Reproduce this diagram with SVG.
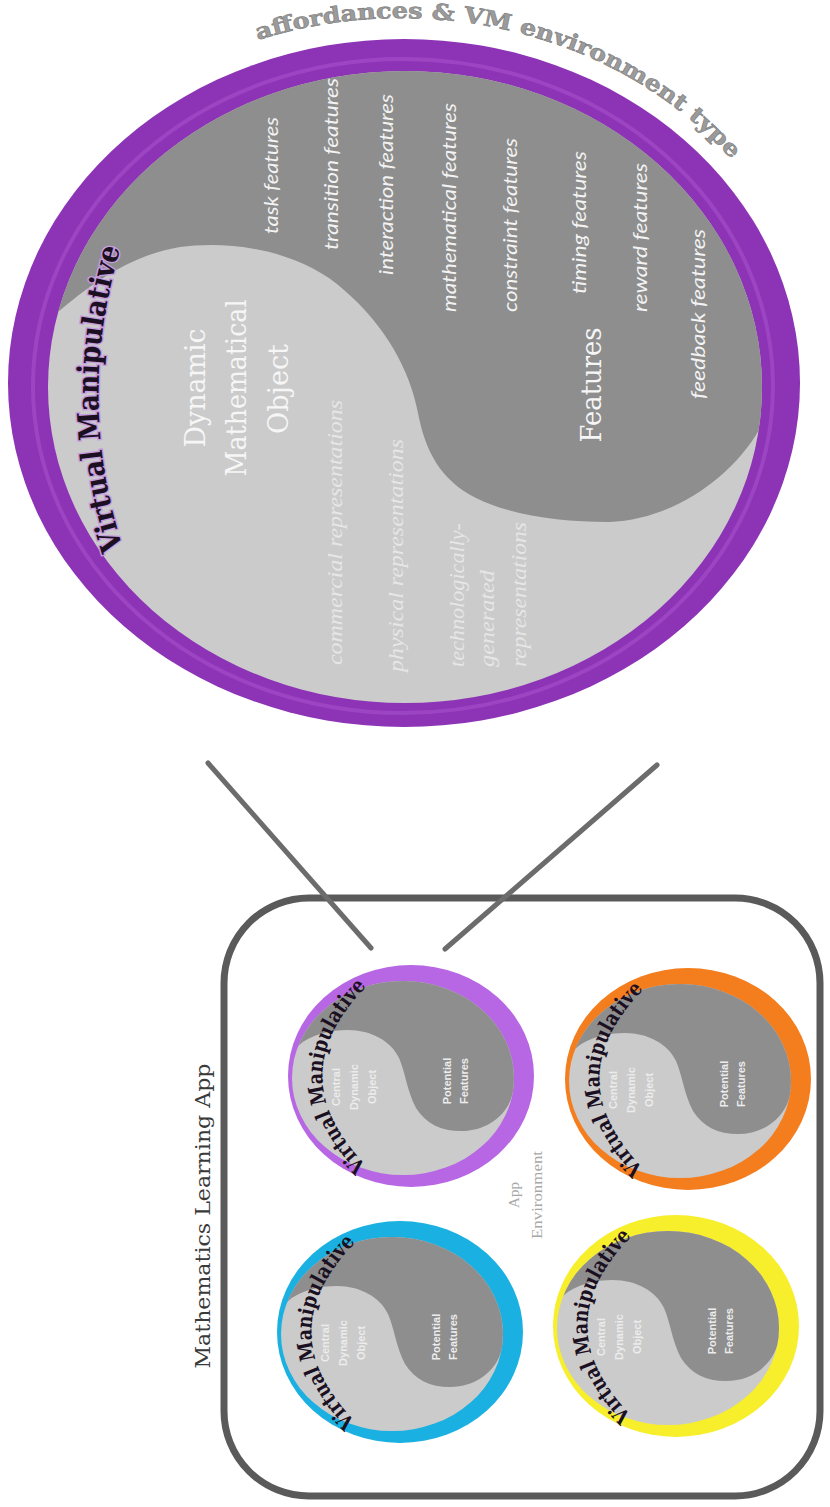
<svg xmlns="http://www.w3.org/2000/svg" width="830" height="1507" viewBox="0 0 830 1507">
<style>
.feat{font-family:Lato,"Open Sans",sans-serif;font-style:italic;font-size:19px;fill:#f3f3f3}
.rep{font-family:"Liberation Serif",serif;font-style:italic;font-size:20px;fill:#e6e6e6}
.dmo{font-family:"DejaVu Serif",serif;font-size:28px;fill:#f6f6f6}
.vm{font-family:"DejaVu Serif",serif;font-weight:bold;fill:#1b1022}
.vmh{font-family:"DejaVu Serif",serif;font-weight:bold;fill:none;stroke-width:3}
.sm{font-family:"Liberation Sans",Arial,sans-serif;font-weight:bold;font-size:11px;fill:#ececec}
.dark{fill:#8e8e8e}
.light{fill:#cbcbcb}
.conn{stroke:#6c6c6c;stroke-width:5;stroke-linecap:round;fill:none}
.ttl{font-family:"DejaVu Serif",serif;font-size:21px;fill:#3a3a3a}
.env{font-family:"Liberation Serif",serif;font-size:15px;fill:#a8a8a8}
</style>
<defs>
<path id="arcTop" d="M 258 40 A 420 368 0 0 1 800 272"/>
<path id="vmArc" d="M 127 560 Q 70 395 127 228"/>
<path id="smArc" d="M -40 94 Q -137 0 -40 -94"/>
<clipPath id="cBig"><ellipse cx="405" cy="387" rx="357" ry="316"/></clipPath>
<clipPath id="cSm"><ellipse cx="-8" cy="2" rx="111" ry="97"/></clipPath>
</defs>

<g id="vm-main">
<ellipse cx="404" cy="383" rx="396" ry="344" fill="#8c33b6"/>
<ellipse cx="403" cy="386" rx="370" ry="327" fill="none" stroke="#9c45c3" stroke-width="4"/>
<ellipse cx="405" cy="387" rx="357" ry="316" class="light"/>
<path class="dark" clip-path="url(#cBig)" d="M 0 330 L 58 312 C 90 285 130 255 180 247 C 230 240 300 250 344 290 C 385 325 410 370 418 413 C 425 450 440 480 476 498 C 510 515 560 522 609 522 C 670 520 730 480 759 430 L 820 410 L 820 0 L 0 0 Z"/>
<text class="vmh" font-size="30" stroke="#c79ce0"><textPath href="#vmArc" startOffset="12" textLength="305" lengthAdjust="spacingAndGlyphs">Virtual Manipulative</textPath></text>
<text class="vm" font-size="30"><textPath href="#vmArc" startOffset="12" textLength="305" lengthAdjust="spacingAndGlyphs">Virtual Manipulative</textPath></text>
<text font-family="DejaVu Serif, serif" font-weight="bold" font-size="22" fill="#9b9b9b" stroke="#7d7d7d" stroke-width="0.6"><textPath href="#arcTop" textLength="515" lengthAdjust="spacingAndGlyphs">affordances  &amp; VM environment  type</textPath></text>

<text class="dmo" x="195" y="388" text-anchor="middle" dominant-baseline="central" transform="rotate(-90 195 388)" textLength="119" lengthAdjust="spacingAndGlyphs">Dynamic</text>
<text class="dmo" x="236" y="388" text-anchor="middle" dominant-baseline="central" transform="rotate(-90 236 388)" textLength="177" lengthAdjust="spacingAndGlyphs">Mathematical</text>
<text class="dmo" x="278" y="389" text-anchor="middle" dominant-baseline="central" transform="rotate(-90 278 389)" textLength="90" lengthAdjust="spacingAndGlyphs">Object</text>
<text class="dmo" x="591" y="385" font-size="31" text-anchor="middle" dominant-baseline="central" transform="rotate(-90 591 385)" textLength="115" lengthAdjust="spacingAndGlyphs">Features</text>

<text class="feat" x="270" y="234" dominant-baseline="central" transform="rotate(-90 270 234)" textLength="117" lengthAdjust="spacingAndGlyphs">task features</text>
<text class="feat" x="330" y="250" dominant-baseline="central" transform="rotate(-90 330 250)" textLength="172" lengthAdjust="spacingAndGlyphs">transition features</text>
<text class="feat" x="385" y="275" dominant-baseline="central" transform="rotate(-90 385 275)" textLength="181" lengthAdjust="spacingAndGlyphs">interaction features</text>
<text class="feat" x="448" y="312" dominant-baseline="central" transform="rotate(-90 448 312)" textLength="209" lengthAdjust="spacingAndGlyphs">mathematical features</text>
<text class="feat" x="509" y="312" dominant-baseline="central" transform="rotate(-90 509 312)" textLength="174" lengthAdjust="spacingAndGlyphs">constraint features</text>
<text class="feat" x="578" y="294" dominant-baseline="central" transform="rotate(-90 578 294)" textLength="143" lengthAdjust="spacingAndGlyphs">timing features</text>
<text class="feat" x="639" y="312" dominant-baseline="central" transform="rotate(-90 639 312)" textLength="149" lengthAdjust="spacingAndGlyphs">reward features</text>
<text class="feat" x="697" y="399" dominant-baseline="central" transform="rotate(-90 697 399)" textLength="170" lengthAdjust="spacingAndGlyphs">feedback features</text>

<text class="rep" x="335" y="665" dominant-baseline="central" transform="rotate(-90 335 665)" textLength="265" lengthAdjust="spacingAndGlyphs">commercial representations</text>
<text class="rep" x="396" y="672" dominant-baseline="central" transform="rotate(-90 396 672)" textLength="233" lengthAdjust="spacingAndGlyphs">physical  representations</text>
<text class="rep" x="457" y="667" dominant-baseline="central" transform="rotate(-90 457 667)" textLength="144" lengthAdjust="spacingAndGlyphs">technologically-</text>
<text class="rep" x="487" y="667" dominant-baseline="central" transform="rotate(-90 487 667)" textLength="97" lengthAdjust="spacingAndGlyphs">generated</text>
<text class="rep" x="519" y="667" dominant-baseline="central" transform="rotate(-90 519 667)" textLength="145" lengthAdjust="spacingAndGlyphs">representations</text>
</g>

<g id="app-box">
<rect x="224" y="898" width="596" height="598" rx="85" fill="#ffffff" stroke="#5a5a5a" stroke-width="7"/>
<text class="ttl" x="203" y="1216" text-anchor="middle" dominant-baseline="central" transform="rotate(-90 203 1216)" textLength="305" lengthAdjust="spacingAndGlyphs">Mathematics Learning App</text>
<text class="env" x="514" y="1195" text-anchor="middle" dominant-baseline="central" transform="rotate(-90 514 1195)">App</text>
<text class="env" x="537" y="1195" text-anchor="middle" dominant-baseline="central" transform="rotate(-90 537 1195)" textLength="88" lengthAdjust="spacingAndGlyphs">Environment</text>
</g>

<g id="connectors">
<line class="conn" x1="208" y1="763" x2="371" y2="948"/>
<line class="conn" x1="657" y1="765" x2="445" y2="949"/>
</g>

<g id="vm-purple" transform="translate(411,1076)">
<ellipse rx="123" ry="111" fill="#b867e4"/>
<ellipse cx="-8" cy="2" rx="111" ry="97" class="light"/>
<path class="dark" clip-path="url(#cSm)" d="M -130 -25 L -113 -30 C -100 -42 -80 -46 -63 -46 C -40 -46 -20 -35 -12 -18 C -6 -5 -4 15 5 32 C 15 48 30 55 50 55 C 75 55 95 40 101 20 L 130 15 L 130 -120 L -130 -120 Z"/>
<text class="sm" x="-75" y="11" text-anchor="middle" dominant-baseline="central" transform="rotate(-90 -75 11)">Central</text>
<text class="sm" x="-57" y="11" text-anchor="middle" dominant-baseline="central" transform="rotate(-90 -57 11)">Dynamic</text>
<text class="sm" x="-39" y="11" text-anchor="middle" dominant-baseline="central" transform="rotate(-90 -39 11)">Object</text>
<text class="sm" x="36" y="5" text-anchor="middle" dominant-baseline="central" transform="rotate(-90 36 5)">Potential</text>
<text class="sm" x="53" y="5" text-anchor="middle" dominant-baseline="central" transform="rotate(-90 53 5)">Features</text>
<text class="vm" font-size="21"><textPath href="#smArc" startOffset="6" textLength="205" lengthAdjust="spacingAndGlyphs">Virtual Manipulative</textPath></text>
</g>

<g id="vm-orange" transform="translate(688,1079)">
<ellipse rx="123" ry="111" fill="#f47d1e"/>
<ellipse cx="-8" cy="2" rx="111" ry="97" class="light"/>
<path class="dark" clip-path="url(#cSm)" d="M -130 -25 L -113 -30 C -100 -42 -80 -46 -63 -46 C -40 -46 -20 -35 -12 -18 C -6 -5 -4 15 5 32 C 15 48 30 55 50 55 C 75 55 95 40 101 20 L 130 15 L 130 -120 L -130 -120 Z"/>
<text class="sm" x="-75" y="11" text-anchor="middle" dominant-baseline="central" transform="rotate(-90 -75 11)">Central</text>
<text class="sm" x="-57" y="11" text-anchor="middle" dominant-baseline="central" transform="rotate(-90 -57 11)">Dynamic</text>
<text class="sm" x="-39" y="11" text-anchor="middle" dominant-baseline="central" transform="rotate(-90 -39 11)">Object</text>
<text class="sm" x="36" y="5" text-anchor="middle" dominant-baseline="central" transform="rotate(-90 36 5)">Potential</text>
<text class="sm" x="53" y="5" text-anchor="middle" dominant-baseline="central" transform="rotate(-90 53 5)">Features</text>
<text class="vm" font-size="21"><textPath href="#smArc" startOffset="6" textLength="205" lengthAdjust="spacingAndGlyphs">Virtual Manipulative</textPath></text>
</g>

<g id="vm-blue" transform="translate(400,1332)">
<ellipse rx="123" ry="111" fill="#1ab0e2"/>
<ellipse cx="-8" cy="2" rx="111" ry="97" class="light"/>
<path class="dark" clip-path="url(#cSm)" d="M -130 -25 L -113 -30 C -100 -42 -80 -46 -63 -46 C -40 -46 -20 -35 -12 -18 C -6 -5 -4 15 5 32 C 15 48 30 55 50 55 C 75 55 95 40 101 20 L 130 15 L 130 -120 L -130 -120 Z"/>
<text class="sm" x="-75" y="11" text-anchor="middle" dominant-baseline="central" transform="rotate(-90 -75 11)">Central</text>
<text class="sm" x="-57" y="11" text-anchor="middle" dominant-baseline="central" transform="rotate(-90 -57 11)">Dynamic</text>
<text class="sm" x="-39" y="11" text-anchor="middle" dominant-baseline="central" transform="rotate(-90 -39 11)">Object</text>
<text class="sm" x="36" y="5" text-anchor="middle" dominant-baseline="central" transform="rotate(-90 36 5)">Potential</text>
<text class="sm" x="53" y="5" text-anchor="middle" dominant-baseline="central" transform="rotate(-90 53 5)">Features</text>
<text class="vm" font-size="21"><textPath href="#smArc" startOffset="6" textLength="205" lengthAdjust="spacingAndGlyphs">Virtual Manipulative</textPath></text>
</g>

<g id="vm-yellow" transform="translate(676,1326)">
<ellipse rx="123" ry="111" fill="#f7ee2c"/>
<ellipse cx="-8" cy="2" rx="111" ry="97" class="light"/>
<path class="dark" clip-path="url(#cSm)" d="M -130 -25 L -113 -30 C -100 -42 -80 -46 -63 -46 C -40 -46 -20 -35 -12 -18 C -6 -5 -4 15 5 32 C 15 48 30 55 50 55 C 75 55 95 40 101 20 L 130 15 L 130 -120 L -130 -120 Z"/>
<text class="sm" x="-75" y="11" text-anchor="middle" dominant-baseline="central" transform="rotate(-90 -75 11)">Central</text>
<text class="sm" x="-57" y="11" text-anchor="middle" dominant-baseline="central" transform="rotate(-90 -57 11)">Dynamic</text>
<text class="sm" x="-39" y="11" text-anchor="middle" dominant-baseline="central" transform="rotate(-90 -39 11)">Object</text>
<text class="sm" x="36" y="5" text-anchor="middle" dominant-baseline="central" transform="rotate(-90 36 5)">Potential</text>
<text class="sm" x="53" y="5" text-anchor="middle" dominant-baseline="central" transform="rotate(-90 53 5)">Features</text>
<text class="vm" font-size="21"><textPath href="#smArc" startOffset="6" textLength="205" lengthAdjust="spacingAndGlyphs">Virtual Manipulative</textPath></text>
</g>
</svg>
